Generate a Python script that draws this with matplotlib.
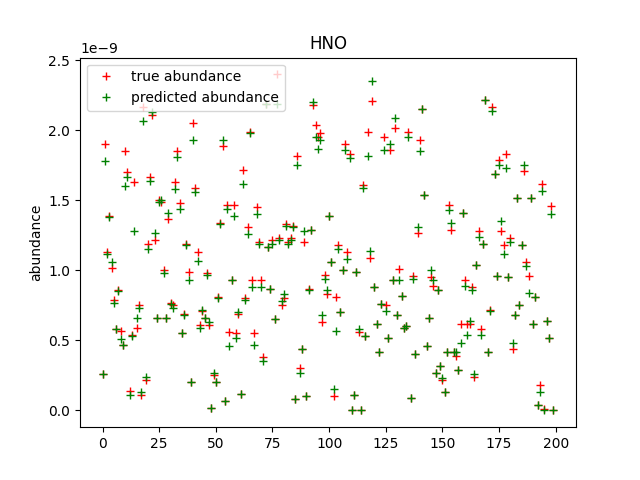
import numpy as np
import matplotlib
matplotlib.use('Agg')
import matplotlib.pyplot as plt

# values, in units of 1e-9
true_vals = [
    0.26, 1.90, 1.13, 1.39, 1.02, 0.79, 0.58, 0.86, 0.57, 0.47,
    1.85, 1.70, 0.14, 0.54, 1.63, 0.59, 0.75, 0.11, 2.17, 0.22,
    1.19, 1.67, 2.11, 1.22, 0.66, 1.50, 1.49, 1.00, 0.66, 1.37,
    0.77, 0.75, 1.63, 1.85, 1.48, 0.55, 0.69, 1.19, 0.99, 0.20,
    2.05, 1.59, 1.13, 0.61, 0.71, 0.66, 0.98, 0.61, 0.02, 0.25,
    0.20, 0.81, 1.34, 1.89, 0.07, 1.47, 0.56, 0.93, 1.47, 0.55,
    0.69, 0.12, 1.72, 0.80, 1.31, 1.99, 0.93, 0.55, 1.45, 1.20,
    0.93, 0.38, 2.19, 1.17, 0.87, 1.22, 0.65, 2.40, 1.23, 0.75,
    0.80, 1.33, 1.20, 1.23, 1.32, 0.08, 1.82, 0.30, 0.44, 1.20,
    0.10, 0.87, 1.29, 2.18, 2.04, 1.95, 1.98, 0.63, 0.97, 0.83,
    1.39, 1.06, 0.10, 0.81, 1.18, 0.70, 1.00, 1.90, 1.13, 1.83,
    0.00, 0.11, 0.99, 0.56, 0.00, 1.61, 0.53, 1.99, 1.09, 2.21,
    0.88, 0.62, 0.42, 0.76, 1.95, 0.75, 0.52, 1.86, 0.93, 2.02,
    0.68, 1.01, 0.82, 0.59, 0.60, 1.99, 0.09, 0.96, 0.40, 1.27,
    1.93, 2.15, 1.54, 0.46, 0.66, 0.95, 0.89, 0.27, 0.86, 0.32,
    0.22, 0.13, 0.42, 1.47, 1.29, 0.42, 0.39, 0.29, 0.62, 1.41,
    0.93, 0.62, 0.62, 0.88, 0.24, 1.04, 1.28, 0.58, 1.19, 2.22,
    0.42, 0.72, 2.17, 1.69, 0.96, 1.79, 1.28, 1.18, 1.83, 0.95,
    1.23, 0.44, 0.68, 1.52, 0.75, 1.18, 1.71, 1.06, 0.96, 1.52,
    0.62, 0.81, 0.04, 0.18, 1.62, 0.01, 0.64, 0.52, 1.46, 0.00,
]
pred_vals = [
    0.26, 1.78, 1.12, 1.38, 1.06, 0.77, 0.58, 0.85, 0.51, 0.47,
    1.60, 1.67, 0.11, 0.53, 1.28, 0.66, 0.73, 0.13, 2.07, 0.24,
    1.15, 1.64, 2.13, 1.27, 0.66, 1.49, 1.50, 0.98, 0.66, 1.41,
    0.76, 0.73, 1.58, 1.81, 1.44, 0.55, 0.68, 1.18, 0.93, 0.20,
    1.93, 1.56, 1.07, 0.59, 0.72, 0.66, 0.97, 0.63, 0.02, 0.27,
    0.20, 0.80, 1.33, 1.93, 0.07, 1.44, 0.46, 0.93, 1.39, 0.52,
    0.70, 0.12, 1.62, 0.79, 1.26, 1.98, 0.88, 0.47, 1.40, 1.19,
    0.88, 0.35, 2.19, 1.17, 0.87, 1.19, 0.65, 2.19, 1.22, 0.78,
    0.83, 1.32, 1.19, 1.22, 1.31, 0.08, 1.75, 0.27, 0.44, 1.28,
    0.10, 0.86, 1.29, 2.20, 1.95, 1.87, 1.93, 0.68, 0.94, 0.86,
    1.39, 1.06, 0.15, 0.57, 1.15, 0.70, 1.00, 1.86, 1.08, 1.80,
    0.00, 0.11, 0.99, 0.58, 0.00, 1.59, 0.53, 1.815, 1.14, 2.35,
    0.88, 0.62, 0.42, 0.76, 1.86, 0.71, 0.52, 1.90, 0.93, 2.09,
    0.68, 0.93, 0.82, 0.59, 0.60, 1.95, 0.09, 0.94, 0.40, 1.31,
    1.85, 2.15, 1.54, 0.46, 0.66, 1.00, 0.93, 0.27, 0.86, 0.32,
    0.23, 0.13, 0.42, 1.43, 1.34, 0.42, 0.42, 0.29, 0.48, 1.41,
    0.89, 0.54, 0.64, 0.86, 0.26, 1.04, 1.24, 0.54, 1.19, 2.22,
    0.42, 0.71, 2.14, 1.69, 0.96, 1.75, 1.35, 1.12, 1.73, 0.95,
    1.20, 0.48, 0.68, 1.52, 0.75, 1.18, 1.75, 1.03, 0.84, 1.52,
    0.62, 0.81, 0.04, 0.13, 1.57, 0.00, 0.64, 0.52, 1.40, 0.00,
]

true_abund = np.array(true_vals) * 1e-9
pred_abund = np.array(pred_vals) * 1e-9
idx = np.arange(len(true_abund))

fig, ax = plt.subplots(figsize=(6.4, 4.8), dpi=100)
ax.plot(idx, true_abund, 'r+', label='true abundance')
ax.plot(idx, pred_abund, 'g+', label='predicted abundance')
ax.set_title('HNO')
ax.set_ylabel('abundance')
ax.legend(loc='upper left')

fig.savefig('out.png')
